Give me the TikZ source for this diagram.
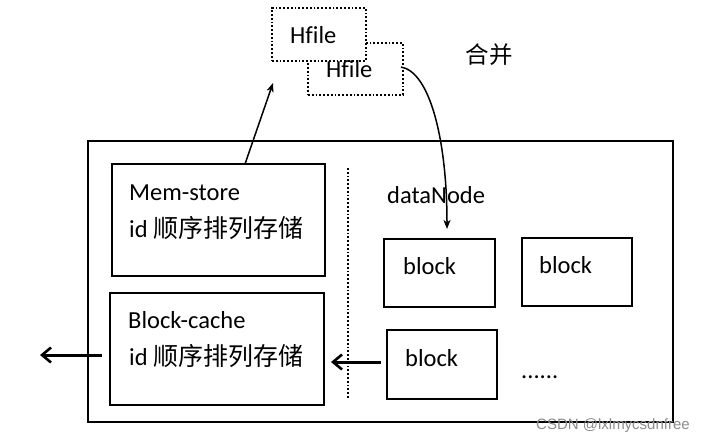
\documentclass[tikz,border=0pt]{standalone}
\usepackage{fontspec}
\setmainfont{Carlito}[Ligatures=NoCommon]
\newfontfamily\cjk{Noto Sans CJK SC}[Scale=1.02]
\newfontfamily\wmfont{Liberation Sans}
\usetikzlibrary{arrows.meta}
\begin{document}
\begin{tikzpicture}[x=1pt,y=-1pt,
  box/.style={draw=black,line width=2pt,fill=white},
  hbox/.style={draw=black,line width=1.8pt,dotted,fill=white},
  lbl/.style={anchor=base west,inner sep=0pt,font=\fontsize{24.5}{28}\selectfont},
  thinarr/.style={line width=1.5pt,-{Stealth[length=9pt,width=7pt,inset=2.5pt]}},
  thickarr/.style={line width=3pt,-{Straight Barb[length=9pt,width=15pt,line width=2.6pt]}}]
\useasboundingbox (0,0) rectangle (719,445);
% outer frame
\node[box,line width=2pt,minimum width=585pt,minimum height=281pt,anchor=north west,inner sep=0pt] (outer) at (87,140) {};
% left boxes
\node[box,minimum width=213pt,minimum height=112pt,anchor=north west,inner sep=0pt] (mem) at (111,163) {};
\node[box,minimum width=214pt,minimum height=112pt,anchor=north west,inner sep=0pt] (cache) at (109,292) {};
\node[lbl] (memt) at (129,200) {Mem-store};
\node[lbl] (memid) at (129,237) {id {\cjk 顺序排列存储}};
\node[lbl] (cachet) at (128,328) {Block-cache};
\node[lbl] (cacheid) at (129,365) {id {\cjk 顺序排列存储}};
% divider
\coordinate (dtop) at (348,168);
\coordinate (dbot) at (348,398);
\draw[line width=1.8pt,dotted] (dtop) -- (dbot);
% data node
\node[lbl] (dn) at (387,203) {dataNode};
\node[box,minimum width=111pt,minimum height=68pt,anchor=north west,inner sep=0pt] (b1) at (383,238) {};
\node[box,minimum width=110pt,minimum height=68pt,anchor=north west,inner sep=0pt] (b2) at (521,237) {};
\node[box,minimum width=110pt,minimum height=69pt,anchor=north west,inner sep=0pt] (b3) at (386,329) {};
\node[lbl] (b1t) at (403,274) {block};
\node[lbl] (b2t) at (539,273) {block};
\node[lbl] (b3t) at (405,366) {block};
\node[lbl] (dots) at (521,378) {......};
% hfiles
\node[hbox,minimum width=95pt,minimum height=52pt,anchor=north west,inner sep=0pt] (h2) at (307,42) {};
\node[hbox,minimum width=94pt,minimum height=53pt,anchor=north west,inner sep=0pt] (h1) at (271,7) {};
\node[lbl] (h1t) at (290,43) {Hf\kern0pt ile};
\node[lbl] (h2t) at (326,77) {Hf\kern0pt ile};
\node[anchor=center,inner sep=0pt,font=\cjk\fontsize{23}{27}\selectfont] (merge) at (489,55) {合并};
% arrows
\coordinate (memtop) at (245,164);
\coordinate (uptip) at (273,83);
\draw[thinarr] (memtop) -- (uptip);
\coordinate (hstart) at (401,67);
\coordinate (dtip) at (447,229);
\draw[thinarr] (hstart) .. controls (430,72) and (447,140) .. (dtip);
\coordinate (leftend) at (40,355);
\draw[thickarr] (cache.west |- leftend) ++(-7,0) -- (leftend);
\coordinate (cachein) at (331,362);
\draw[thickarr] (b3.west |- cachein) ++(-5,0) -- (cachein);
% watermark
\node[anchor=center,inner sep=0pt,text=black!45,font=\wmfont\fontsize{15}{17}\selectfont] (wm) at (613,426) {CSDN @lxlmycsdnfree};
\end{tikzpicture}
\end{document}
